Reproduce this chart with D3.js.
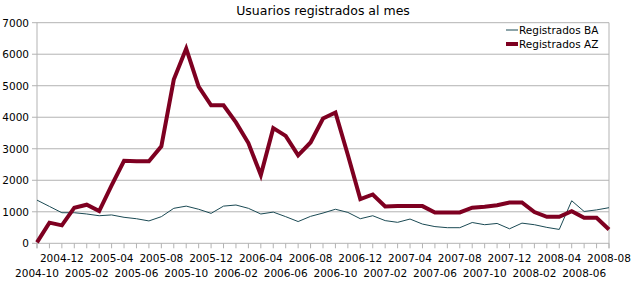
<!DOCTYPE html>
<html>
<head>
<meta charset="utf-8">
<script src="https://cdn.jsdelivr.net/npm/d3@7"></script>
<style>
  body { margin: 0; background: #fff; }
  svg { display: block; font-family: "DejaVu Sans", sans-serif; }
</style>
</head>
<body>
<svg id="chart" width="635" height="282"></svg>
<script>
// months 2004-10 .. 2008-08
const months = [];
for (let y = 2004, m = 10; y < 2008 || m <= 8; ) {
  months.push(`${y}-${String(m).padStart(2, '0')}`);
  m++;
  if (m > 12) { m = 1; y++; }
}

const registradosBA = [
  1370, 1170, 970, 970, 930, 875, 900, 825, 780, 710, 845, 1110,
  1180, 1080, 950, 1180, 1215, 1110, 930, 990, 845, 690, 855, 960,
  1080, 980, 780, 875, 720, 665, 770, 610, 530, 495, 495, 660,
  590, 630, 460, 640, 590, 505, 440, 1350, 1010, 1060, 1130
];

const registradosAZ = [
  30, 655, 570, 1130, 1225, 1025, 1840, 2620, 2600, 2600, 3075, 5195,
  6180, 4975, 4380, 4380, 3835, 3180, 2165, 3655, 3410, 2790, 3200, 3960,
  4150, 2800, 1405, 1550, 1170, 1180, 1180, 1180, 980, 980, 980, 1130,
  1160, 1210, 1295, 1295, 990, 840, 840, 1020, 810, 810, 440
];

const yTicks = [0, 1000, 2000, 3000, 4000, 5000, 6000, 7000];

const series = [
  { name: 'Registrados BA', values: registradosBA, color: '#1b4a54', width: 1 },
  { name: 'Registrados AZ', values: registradosAZ, color: '#7e0021', width: 4 }
];

const margin = { left: 37, right: 26, top: 22.7, bottom: 38.7 };
const width = 635, height = 282;
const svg = d3.select('#chart');

const x = d3.scalePoint().domain(months).range([margin.left, width - margin.right]);
const y = d3.scaleLinear().domain([0, 7000]).range([height - margin.bottom, margin.top]);

// title
svg.append('text')
  .attr('x', 323).attr('y', 15)
  .attr('text-anchor', 'middle')
  .attr('font-size', '12.5px')
  .attr('fill', '#000')
  .text('Usuarios registrados al mes');

// grid lines
svg.append('g').selectAll('line').data(yTicks).join('line')
  .attr('x1', margin.left - 5).attr('x2', width - margin.right)
  .attr('y1', d => y(d)).attr('y2', d => y(d))
  .attr('stroke', '#b3b3b3').attr('stroke-width', 1);

// plot frame (left + right)
svg.append('line')
  .attr('x1', margin.left).attr('x2', margin.left)
  .attr('y1', y(7000)).attr('y2', y(0) + 5)
  .attr('stroke', '#b3b3b3');
svg.append('line')
  .attr('x1', width - margin.right).attr('x2', width - margin.right)
  .attr('y1', y(7000)).attr('y2', y(0) + 5)
  .attr('stroke', '#b3b3b3');

// y labels
svg.append('g').selectAll('text').data(yTicks).join('text')
  .attr('x', 29).attr('y', d => y(d) + 4)
  .attr('text-anchor', 'end')
  .attr('font-size', '10.5px')
  .text(d => d);

// x ticks
svg.append('g').selectAll('line').data(months).join('line')
  .attr('x1', d => x(d)).attr('x2', d => x(d))
  .attr('y1', y(0)).attr('y2', y(0) + 5)
  .attr('stroke', '#b3b3b3');

// x labels, every 2 months alternating rows
svg.append('g').selectAll('text')
  .data(months.filter((d, i) => i % 2 === 0))
  .join('text')
  .attr('x', d => x(d))
  .attr('y', (d, i) => i % 2 === 0 ? 277 : 262)
  .attr('text-anchor', 'middle')
  .attr('font-size', '10.5px')
  .text(d => d);

// lines
const line = d3.line().x((d, i) => x(months[i])).y(d => y(d));
series.forEach(s => {
  svg.append('path')
    .datum(s.values)
    .attr('fill', 'none')
    .attr('stroke', s.color)
    .attr('stroke-width', s.width)
    .attr('stroke-linejoin', 'miter')
    .attr('d', line);
});

// legend
const legend = svg.append('g').selectAll('g').data(series).join('g')
  .attr('transform', (d, i) => `translate(506,${30 + i * 14})`);
legend.append('line')
  .attr('x1', 0).attr('x2', 12)
  .attr('stroke', d => d.color)
  .attr('stroke-width', d => d.width);
legend.append('text')
  .attr('x', 13).attr('y', 4)
  .attr('font-size', '10.5px')
  .text(d => d.name);
</script>
</body>
</html>
